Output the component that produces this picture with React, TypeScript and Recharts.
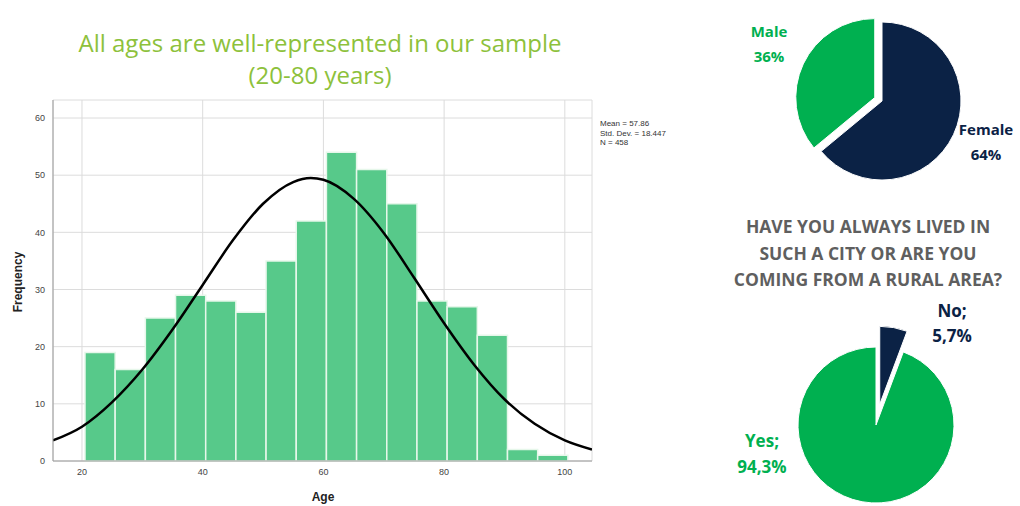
import { ComposedChart, Line, XAxis, YAxis, CartesianGrid, ReferenceArea, PieChart, Pie, Cell } from 'recharts'

// histogram of ages (5-year bins)
const BIN_STARTS = [20.5, 25.5, 30.5, 35.5, 40.5, 45.5, 50.5, 55.5, 60.5, 65.5, 70.5, 75.5, 80.5, 85.5, 90.5, 95.5]
const BIN_COUNTS = [19, 16, 25, 29, 28, 26, 35, 42, 54, 51, 45, 28, 27, 22, 2, 1]
const BIN_WIDTH = 5

// normal curve
const CURVE_AGES = [15.2, 20, 25, 30, 35, 40, 45, 50, 55, 57.9, 60, 65, 70, 75, 80, 85, 90, 95, 100, 104.5]
const CURVE_VALUES = [3.6, 6.0, 10.3, 16.0, 23.0, 30.8, 38.6, 45.0, 48.8, 49.5, 49.2, 45.9, 39.9, 32.1, 24.1, 16.8, 10.8, 6.5, 3.6, 2.0]

const X_TICKS = [20, 40, 60, 80, 100]
const Y_TICKS = [0, 10, 20, 30, 40, 50, 60]

const STATS = ['Mean = 57.86', 'Std. Dev. = 18.447', 'N = 458']

const GENDER_NAMES = ['Female', 'Male']
const GENDER_VALUES = [64, 36]

const ORIGIN_NAMES = ['No', 'Yes']
const ORIGIN_VALUES = [5.7, 94.3]

const GREEN = '#00B050'
const NAVY = '#0B2245'
const BAR_GREEN = '#57C98A'
const RAD = Math.PI / 180

const curveData = CURVE_AGES.map((age, i) => ({ age, normal: CURVE_VALUES[i] }))

interface PieProps {
  names: string[]
  values: number[]
  colors: string[]
  width: number
  height: number
  cx: number
  cy: number
  r: number
  explode: number
  offset: number
}

function ExplodedPie({ names, values, colors, width, height, cx, cy, r, explode, offset }: PieProps) {
  const data = names.map((name, i) => ({ name, value: values[i] }))
  const total = values.reduce((a, b) => a + b, 0)
  const before = values.slice(0, explode).reduce((a, b) => a + b, 0)
  const mid = 90 - (360 * (before + values[explode] / 2)) / total
  const dx = offset * Math.cos(mid * RAD)
  const dy = -offset * Math.sin(mid * RAD)

  return (
    <PieChart width={width} height={height}>
      <Pie
        data={data}
        dataKey="value"
        cx={cx}
        cy={cy}
        outerRadius={r}
        startAngle={90}
        endAngle={-270}
        stroke="#fff"
        strokeWidth={1}
        isAnimationActive={false}
      >
        {data.map((d, i) => (
          <Cell key={d.name} fill={i === explode ? 'transparent' : colors[i]} stroke={i === explode ? 'none' : '#fff'} />
        ))}
      </Pie>
      <Pie
        data={data}
        dataKey="value"
        cx={cx + dx}
        cy={cy + dy}
        outerRadius={r}
        startAngle={90}
        endAngle={-270}
        stroke="#fff"
        strokeWidth={1}
        isAnimationActive={false}
      >
        {data.map((d, i) => (
          <Cell key={d.name} fill={i === explode ? colors[i] : 'transparent'} stroke={i === explode ? '#fff' : 'none'} />
        ))}
      </Pie>
    </PieChart>
  )
}

const labelStyle = (color: string, x: number, y: number, size: number, lh: number) => ({
  position: 'absolute' as const,
  left: x - 60,
  top: y,
  width: 120,
  textAlign: 'center' as const,
  color,
  fontFamily: '"Open Sans", sans-serif',
  fontWeight: 700,
  fontSize: size,
  lineHeight: `${lh}px`,
})

export default function App() {
  return (
    <div style={{ position: 'absolute', left: 0, top: 0, width: 1020, height: 506, background: '#fff', overflow: 'hidden' }}>
      {/* title */}
      <div
        style={{
          position: 'absolute',
          left: 20,
          top: 27,
          width: 600,
          textAlign: 'center',
          color: '#8DC13B',
          fontFamily: '"Open Sans", sans-serif',
          fontSize: 24,
          lineHeight: '32px',
        }}
      >
        All ages are well-represented in our sample
        <br />
        (20-80 years)
      </div>

      {/* histogram */}
      <div style={{ position: 'absolute', left: 0, top: 0 }}>
        <ComposedChart width={620} height={506} data={curveData} margin={{ top: 100, right: 28, bottom: 20, left: 0 }}>
          <CartesianGrid stroke="#dcdcdc" strokeWidth={1} />
          <XAxis
            dataKey="age"
            type="number"
            domain={[15.2, 104.5]}
            ticks={X_TICKS}
            height={25}
            tickLine={false}
            axisLine={{ stroke: '#9a9a9a' }}
            tick={{ fontSize: 9, fill: '#444', fontFamily: '"Liberation Sans", Arial' }}
            allowDataOverflow
          />
          <YAxis
            type="number"
            domain={[0, 63.15]}
            ticks={Y_TICKS}
            width={53}
            tickLine={false}
            axisLine={{ stroke: '#9a9a9a' }}
            tick={{ fontSize: 9, fill: '#444', fontFamily: '"Liberation Sans", Arial' }}
            allowDataOverflow
          />
          {BIN_STARTS.map((s, i) => (
            <ReferenceArea
              key={s}
              x1={s}
              x2={s + BIN_WIDTH}
              y1={0}
              y2={BIN_COUNTS[i]}
              fill={BAR_GREEN}
              fillOpacity={1}
              stroke="#e6f7ea"
              strokeWidth={1.5}
            />
          ))}
          <Line
            dataKey="normal"
            type="monotone"
            stroke="#000"
            strokeWidth={2.5}
            dot={false}
            activeDot={false}
            isAnimationActive={false}
          />
        </ComposedChart>
      </div>

      {/* axis titles */}
      <div
        style={{
          position: 'absolute',
          left: 18 - 50,
          top: 275,
          width: 100,
          textAlign: 'center',
          transform: 'rotate(-90deg)',
          fontFamily: '"Liberation Sans", Arial',
          fontWeight: 700,
          fontSize: 12,
          color: '#222',
        }}
      >
        Frequency
      </div>
      <div
        style={{
          position: 'absolute',
          left: 273,
          top: 490,
          width: 100,
          textAlign: 'center',
          fontFamily: '"Liberation Sans", Arial',
          fontWeight: 700,
          fontSize: 12,
          color: '#222',
        }}
      >
        Age
      </div>

      {/* stats box */}
      <div
        style={{
          position: 'absolute',
          left: 600,
          top: 119,
          fontFamily: '"Liberation Sans", Arial',
          fontSize: 8,
          lineHeight: '9.5px',
          color: '#333',
        }}
      >
        {STATS.map((s) => (
          <div key={s}>{s}</div>
        ))}
      </div>

      {/* gender pie */}
      <div style={{ position: 'absolute', left: 700, top: 0 }}>
        <ExplodedPie
          names={GENDER_NAMES}
          values={GENDER_VALUES}
          colors={[NAVY, GREEN]}
          width={320}
          height={195}
          cx={177}
          cy={96}
          r={79}
          explode={1}
          offset={8}
        />
      </div>
      <div style={labelStyle(GREEN, 769, 19, 15, 25)}>
        {GENDER_NAMES[1]}
        <br />
        {GENDER_VALUES[1]}%
      </div>
      <div style={labelStyle(NAVY, 986, 117, 15, 25)}>
        {GENDER_NAMES[0]}
        <br />
        {GENDER_VALUES[0]}%
      </div>

      {/* question */}
      <div
        style={{
          position: 'absolute',
          left: 718,
          top: 213,
          width: 300,
          textAlign: 'center',
          color: '#5f5f5f',
          fontFamily: '"Open Sans", sans-serif',
          fontWeight: 700,
          fontSize: 17.5,
          lineHeight: '26.5px',
        }}
      >
        HAVE YOU ALWAYS LIVED IN
        <br />
        SUCH A CITY OR ARE YOU
        <br />
        COMING FROM A RURAL AREA?
      </div>

      {/* origin pie */}
      <div style={{ position: 'absolute', left: 700, top: 300 }}>
        <ExplodedPie
          names={ORIGIN_NAMES}
          values={ORIGIN_VALUES}
          colors={[NAVY, GREEN]}
          width={320}
          height={206}
          cx={171}
          cy={120}
          r={78}
          explode={0}
          offset={21}
        />
      </div>
      <div style={labelStyle(NAVY, 952, 298, 17, 25)}>
        {ORIGIN_NAMES[0]};
        <br />
        {ORIGIN_VALUES[0].toFixed(1).replace('.', ',')}%
      </div>
      <div style={labelStyle(GREEN, 762, 428, 17, 26)}>
        {ORIGIN_NAMES[1]};
        <br />
        {ORIGIN_VALUES[1].toFixed(1).replace('.', ',')}%
      </div>
    </div>
  )
}
